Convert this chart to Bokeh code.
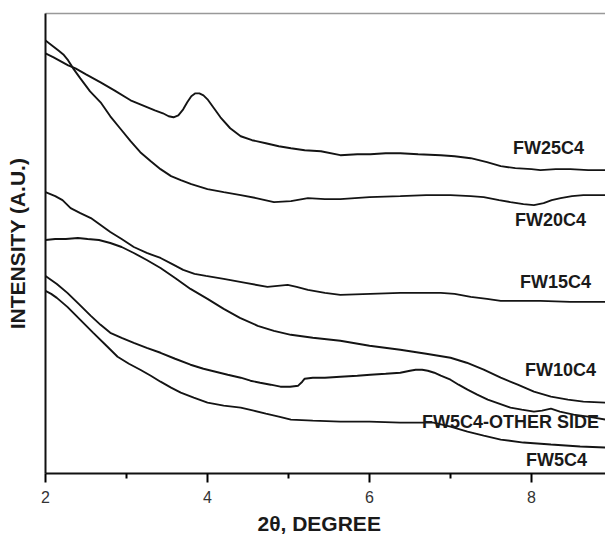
from bokeh.plotting import figure
from bokeh.models import Range1d, FixedTicker, LinearAxis, ColumnDataSource, Title
from bokeh.core.properties import value
from bokeh.embed import file_html
from bokeh.resources import INLINE

# ---------------- data (2theta in degrees, intensity in arbitrary units) ----------------
fw25_x = [2.00, 2.10, 2.19, 2.28, 2.37, 2.50, 2.68, 2.85, 3.05, 3.20, 3.35, 3.45, 3.52, 3.58,
          3.64, 3.70, 3.75, 3.80, 3.85, 3.90, 3.95, 4.00, 4.08, 4.16, 4.28, 4.41, 4.55, 4.72,
          4.88, 5.03, 5.20, 5.40, 5.64, 5.85, 6.01, 6.20, 6.38, 6.60, 6.88, 7.05, 7.25, 7.45,
          7.62, 7.80, 8.00, 8.11, 8.30, 8.48, 8.70, 8.91]
fw25_y = [421, 417, 413, 409, 406, 400, 392, 384, 374, 369, 364, 361, 358, 357,
          359, 365, 372, 378, 381, 381, 379, 375, 366, 357, 346, 338, 334, 331,
          328, 326, 324, 323, 319, 320, 320, 321, 321, 320, 319, 318, 316, 312,
          308, 306, 305, 304, 305, 305, 304, 304]

fw20_x = [2.00, 2.08, 2.16, 2.22, 2.28, 2.35, 2.43, 2.55, 2.68, 2.80, 2.93, 3.05, 3.17, 3.30,
          3.42, 3.55, 3.67, 3.80, 4.00, 4.20, 4.41, 4.60, 4.82, 5.03, 5.24, 5.45, 5.64, 6.00,
          6.38, 6.70, 7.00, 7.25, 7.41, 7.60, 7.74, 7.90, 8.03, 8.15, 8.25, 8.36, 8.50, 8.64,
          8.91]
fw20_y = [434, 429, 424, 420, 414, 405, 396, 383, 372, 358, 345, 333, 322, 313,
          305, 298, 294, 290, 285, 282, 279, 276, 272, 273, 276, 275, 275, 277,
          278, 279, 279, 278, 277, 274, 272, 270, 269, 271, 274, 276, 278, 279,
          279]

fw15_x = [2.00, 2.06, 2.12, 2.21, 2.31, 2.43, 2.56, 2.68, 2.80, 2.94, 3.09, 3.25, 3.42, 3.56,
          3.70, 3.84, 3.98, 4.20, 4.47, 4.74, 4.99, 5.10, 5.24, 5.45, 5.64, 6.01, 6.38, 6.88,
          7.05, 7.25, 7.45, 7.62, 8.11, 8.48, 8.91]
fw15_y = [282, 280, 278, 274, 266, 261, 256, 249, 242, 235, 227, 221, 216, 210,
          204, 200, 198, 195, 191, 187, 189, 187, 184, 181, 179, 180, 181, 181,
          180, 177, 175, 173, 173, 172, 172]

fw10_x = [2.00, 2.12, 2.25, 2.40, 2.52, 2.66, 2.80, 2.94, 3.09, 3.25, 3.42, 3.60, 3.79, 4.00,
          4.20, 4.40, 4.62, 4.82, 5.03, 5.30, 5.64, 6.00, 6.38, 6.70, 7.00, 7.20, 7.41, 7.62,
          7.83, 8.03, 8.24, 8.45, 8.64, 8.91]
fw10_y = [234, 235, 235, 236, 235, 234, 231, 227, 221, 214, 206, 196, 185, 175,
          165, 156, 148, 143, 139, 136, 133, 128, 124, 120, 116, 111, 104, 96,
          89, 82, 77, 74, 72, 71]

fw5o_x = [2.00, 2.07, 2.14, 2.27, 2.41, 2.56, 2.68, 2.80, 2.94, 3.09, 3.25, 3.42, 3.60, 3.79,
          3.95, 4.10, 4.25, 4.41, 4.53, 4.65, 4.78, 4.90, 5.02, 5.12, 5.17, 5.20, 5.30, 5.45,
          5.64, 5.85, 6.01, 6.20, 6.38, 6.50, 6.57, 6.65, 6.72, 6.80, 6.88, 7.00, 7.10, 7.21,
          7.33, 7.46, 7.60, 7.74, 7.88, 8.03, 8.13, 8.24, 8.35, 8.52, 8.70, 8.91]
fw5o_y = [198, 194, 190, 181, 170, 158, 149, 141, 136, 131, 126, 121, 115, 109,
          105, 102, 99, 96, 93, 91, 89, 87, 87, 88, 92, 95, 96, 96,
          97, 98, 99, 100, 101, 103, 104, 104, 103, 101, 98, 94, 89, 84,
          79, 74, 70, 66, 64, 62, 63, 65, 62, 59, 57, 54]

fw5_x = [2.00, 2.07, 2.14, 2.27, 2.43, 2.59, 2.74, 2.89, 3.03, 3.17, 3.30, 3.42, 3.55, 3.67,
         3.83, 4.00, 4.20, 4.41, 4.57, 4.72, 4.88, 5.03, 5.30, 5.64, 6.00, 6.38, 6.79, 7.00,
         7.21, 7.41, 7.62, 7.90, 8.24, 8.60, 8.91]
fw5_y = [183, 180, 176, 167, 154, 141, 129, 117, 110, 104, 98, 92, 86, 81,
         76, 71, 68, 66, 63, 60, 57, 54, 53, 52, 52, 51, 51, 47,
         42, 38, 34, 31, 29, 27, 26]

series_names = ["FW25C4", "FW20C4", "FW15C4", "FW10C4", "FW5C4-OTHER SIDE", "FW5C4"]
series_x = [fw25_x, fw20_x, fw15_x, fw10_x, fw5o_x, fw5_x]
series_y = [fw25_y, fw20_y, fw15_y, fw10_y, fw5o_y, fw5_y]

x_ticks = [2, 4, 6, 8]
x_minor_ticks = [3, 5, 7]
x_title = "2θ, DEGREE"
y_title = "INTENSITY (A.U.)"

# label placement (data coordinates)
label_x = [8.21, 8.235, 8.296, 8.358, 7.74, 8.309]
label_y = [326, 254, 192, 104, 52, 14]

# ---------------- figure ----------------
p = figure(width=605, height=538, output_backend="svg", toolbar_location=None,
           x_range=Range1d(2, 2 + 560 / 81), y_range=Range1d(0, 461),
           min_border_left=45, min_border_right=0, min_border_top=13, min_border_bottom=64)
p.background_fill_color = "white"
p.border_fill_color = "white"
p.outline_line_color = None
p.xgrid.visible = False
p.ygrid.visible = False

for xs, ys in zip(series_x, series_y):
    p.line(xs, ys, line_color="#141414", line_width=1.9)

src = ColumnDataSource(dict(x=label_x, y=label_y, t=series_names))
p.text(x="x", y="y", text="t", source=src, text_font=value("Liberation Sans"),
       text_font_style="bold", text_font_size="18px", text_color="#1a1a1a",
       text_align="center", text_baseline="middle")

# x axis
xa = p.xaxis[0]
xa.ticker = FixedTicker(ticks=x_ticks, minor_ticks=x_minor_ticks)
xa.axis_line_width = 2
xa.axis_line_color = "#111111"
xa.major_tick_in = 0
xa.major_tick_out = 9
xa.major_tick_line_width = 2
xa.minor_tick_in = 0
xa.minor_tick_out = 5
xa.minor_tick_line_width = 2
xa.major_label_text_font = "Liberation Sans"
xa.major_label_text_font_size = "16px"
xa.major_label_text_color = "#333333"
xa.major_label_standoff = 8

p.add_layout(Title(text=x_title, align="left", offset=212, standoff=8,
                   text_font="Liberation Sans", text_font_style="bold", text_font_size="21px",
                   text_color="#1a1a1a"), "below")

# y axis
ya = p.yaxis[0]
ya.ticker = FixedTicker(ticks=[])
ya.axis_line_width = 2
ya.axis_line_color = "#111111"
ya.major_tick_line_color = None
ya.minor_tick_line_color = None
ya.axis_label = y_title
ya.axis_label_text_font = "Liberation Sans"
ya.axis_label_text_font_style = "bold"
ya.axis_label_text_font_size = "21px"
ya.axis_label_text_color = "#1a1a1a"
ya.axis_label_standoff = 17

# top frame line
top = LinearAxis(ticker=FixedTicker(ticks=[]), axis_line_color="#999999", axis_line_width=1.5,
                 major_tick_line_color=None, minor_tick_line_color=None)
p.add_layout(top, "above")

open("out.html", "w").write(file_html(p, INLINE))
